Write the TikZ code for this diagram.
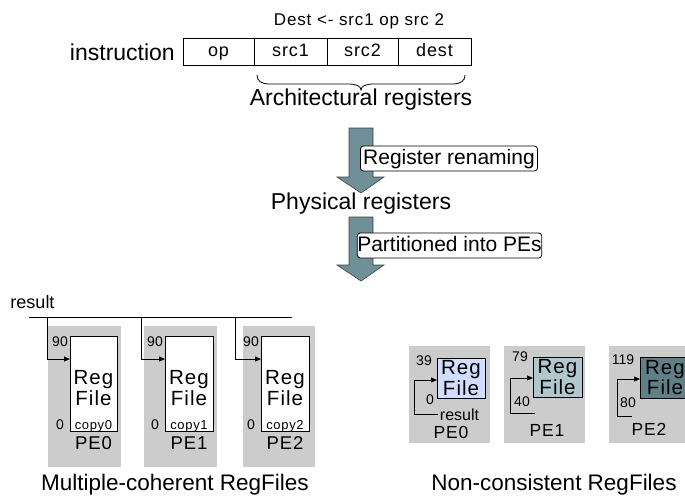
\documentclass[tikz,border=0pt]{standalone}
\usepackage{fontspec}
\setmainfont{Liberation Sans}
\newfontfamily\lsfont[LetterSpace=5]{Liberation Sans}
\usetikzlibrary{arrows.meta}
\definecolor{arrowfill}{RGB}{111,144,152}
\definecolor{pegray}{RGB}{204,204,204}
\definecolor{rfA}{RGB}{210,222,255}
\definecolor{rfB}{RGB}{176,200,205}
\definecolor{rfC}{RGB}{96,128,136}
\tikzset{
  field/.style={draw, line width=0.9pt, minimum height=27pt, inner sep=0pt, text height=13pt, text depth=4pt, font=\lsfont\fontsize{18}{20}\selectfont},
  big/.style={inner sep=0pt, font=\fontsize{23}{26}\selectfont},
  title/.style={inner sep=0pt, font=\fontsize{22.5}{26}\selectfont},
  tag/.style={draw, fill=white, rounded corners=3pt, line width=0.8pt, minimum height=25pt, minimum width=177pt, inner sep=0pt, text height=15pt, text depth=4pt, font=\fontsize{21}{22}\selectfont},
  bigarrow/.style={fill=arrowfill, draw=black!75, line width=0.6pt},
  pebg/.style={fill=pegray, draw=none, inner sep=0pt},
  regbox/.style={draw, line width=0.9pt, inner sep=0pt},
  regtxt/.style={inner sep=0pt, align=center, font=\lsfont\fontsize{20.5}{18}\selectfont},
  num/.style={inner sep=0pt, font=\fontsize{14}{14}\selectfont},
  small/.style={inner sep=0pt, font=\lsfont\fontsize{13}{13}\selectfont},
  pelbl/.style={inner sep=0pt, font=\lsfont\fontsize{18.5}{18}\selectfont},
  pelbr/.style={inner sep=0pt, font=\lsfont\fontsize{17.5}{17}\selectfont},
  wire/.style={line width=0.9pt},
  arr/.style={wire, -{Triangle[length=6pt,width=5pt]}},
}
\begin{document}
\begin{tikzpicture}[x=1pt,y=-1pt]
\useasboundingbox (0,0) rectangle (685,498);
\clip (0,0) rectangle (685,498);

% ---------- instruction ----------
\node[inner sep=0pt, font=\lsfont\fontsize{17}{20}\selectfont] (dest) at (359,21) {Dest <- src1 op src 2};
\node[big, anchor=east] (instr) at (175,52) {instruction};
\node[field, minimum width=71pt] (fop)   at (218.5,51.5) {op};
\node[field, minimum width=73pt] (fs1)   at (290.5,51.5) {src1};
\node[field, minimum width=71pt] (fs2)   at (362.5,51.5) {src2};
\node[field, minimum width=73pt] (fdst)  at (434.5,51.5) {dest};
\coordinate (brL) at (257,75);
\coordinate (brR) at (465,75);
\coordinate (brT) at (361,90);
\draw[line width=0.8pt] (brL) .. controls (257,81) and (261,84) .. (270,84) -- (348,84)
  .. controls (356,84) and (361,86) .. (brT) .. controls (361,86) and (366,84) .. (374,84)
  -- (452,84) .. controls (461,84) and (465,81) .. (brR);
\node[big] (arch) at (361,100) {Architectural registers};

% ---------- arrows ----------
\path[bigarrow] (349,128) -- (373,128) -- (373,177) -- (384,177) -- (361,193) -- (337,177) -- (349,177) -- cycle;
\node[tag] (ren) at (449,158.5) {Register renaming};
\node[big] (phys) at (361,204) {Physical registers};
\path[bigarrow] (349,217) -- (373,217) -- (373,265) -- (384,265) -- (361,281) -- (337,265) -- (349,265) -- cycle;
\node[tag] (part) at (449.5,245.5) {Partitioned into PEs};

% ---------- multiple coherent ----------
\node[inner sep=0pt, font=\fontsize{18}{18}\selectfont] (res) at (32.5,302) {result};
\coordinate (busL) at (29,317);
\coordinate (busR) at (292,317);
\draw[wire] (busL) -- (busR);

\node[pebg, minimum width=73pt, minimum height=141pt] (g0) at (84.5,396.5) {};
\node[pebg, minimum width=73pt, minimum height=141pt] (g1) at (180.5,396.5) {};
\node[pebg, minimum width=72pt, minimum height=141pt] (g2) at (279,396.5) {};

\node[regbox, fill=white, minimum width=47pt, minimum height=95pt] (rf0) at (93.5,383.5) {};
\node[regbox, fill=white, minimum width=48pt, minimum height=95pt] (rf1) at (189,383.5) {};
\node[regbox, fill=white, minimum width=48pt, minimum height=95pt] (rf2) at (285,383.5) {};

\foreach \i/\cx/\bl/\tx in {0/93.5/70/47, 1/189/165/141, 2/285/261/235}{
  \node[regtxt] (rt\i) at (\cx,388) {Reg\\File};
  \node[small] (cp\i) at (\cx,426) {copy\i};
  \node[num, anchor=east] (hi\i) at (\bl-2,342) {90};
  \node[num, anchor=east] (lo\i) at (\bl-6,425) {0};
  \node[pelbl] (pe\i) at (\cx,443) {PE\i};
  \coordinate (tap\i) at (\tx,317);
  \coordinate (in\i) at (\bl,359);
  \draw[arr] (tap\i) |- (in\i);
}
\node[title] (t1) at (175,485) {Multiple-coherent RegFiles};

% ---------- non-consistent ----------
\node[pebg, minimum width=81pt, minimum height=97pt] (h0) at (449.5,394.5) {};
\node[pebg, minimum width=81pt, minimum height=97pt] (h1) at (544.5,394.5) {};
\node[pebg, minimum width=81pt, minimum height=97pt] (h2) at (649.5,394.5) {};

\node[regbox, fill=rfA, minimum width=48pt, minimum height=40pt] (q0) at (461,378) {};
\node[regbox, fill=rfB, minimum width=49pt, minimum height=40pt] (q1) at (557.5,377) {};
\node[regbox, fill=rfC, minimum width=50pt, minimum height=41pt] (q2) at (665,377.5) {};
\node[regtxt] (qt0) at (461,378) {Reg\\File};
\node[regtxt] (qt1) at (557.5,377) {Reg\\File};
\node[regtxt] (qt2) at (665,377.5) {Reg\\File};

\coordinate (r0s) at (438,414); \coordinate (r0c) at (414,414); \coordinate (r0in) at (437,380);
\coordinate (r1s) at (535,413); \coordinate (r1c) at (510,413); \coordinate (r1in) at (533,378);
\coordinate (r2s) at (632,416); \coordinate (r2c) at (617,416); \coordinate (r2in) at (640,379);
\draw[arr] (r0s) -- (r0c) |- (r0in);
\draw[arr] (r1s) -- (r1c) |- (r1in);
\draw[arr] (r2s) -- (r2c) |- (r2in);

\node[num] (n39) at (424,361) {39};
\node[num] (n0) at (430,400) {0};
\node[num] (n79) at (520,357) {79};
\node[num] (n40) at (522,402) {40};
\node[num] (n119) at (623,360) {119};
\node[num] (n80) at (628,403) {80};
\node[inner sep=0pt, font=\fontsize{16}{16}\selectfont] (rres) at (459.5,415) {result};
\node[pelbr] (p0) at (451,432) {PE0};
\node[pelbr] (p1) at (547,430) {PE1};
\node[pelbr] (p2) at (649,429) {PE2};
\node[title] (t2) at (554,485) {Non-consistent RegFiles};
\end{tikzpicture}
\end{document}
